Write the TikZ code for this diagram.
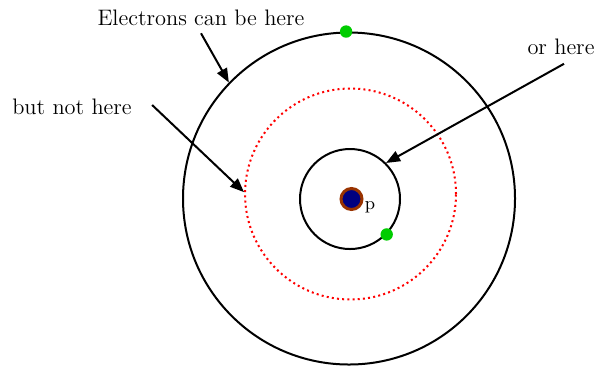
\documentclass[tikz,border=0pt]{standalone}
\usetikzlibrary{arrows.meta, positioning}
\definecolor{nuc-navy}{RGB}{0,0,128}
\definecolor{nuc-brown}{RGB}{153,51,0}
\definecolor{elec-green}{RGB}{0,204,0}
\definecolor{gap-red}{RGB}{255,0,0}

\begin{document}
\begin{tikzpicture}[
  x=0.5pt, y=-0.5pt,
  >={Triangle[length=7pt, width=5.5pt]},
  % Orbit styles
  orbit/.style    = {circle, draw=black, line width=1pt, inner sep=0pt},
  gaporbit/.style = {circle, draw=gap-red, line width=1pt, inner sep=0pt,
                     dash pattern=on 1pt off 1.6pt},
  nucleus/.style  = {circle, draw=nuc-brown, fill=nuc-navy, line width=1.5pt,
                     inner sep=0pt, minimum size=10.5pt},
  electron/.style = {circle, fill=elec-green, inner sep=0pt, minimum size=6.2pt},
  % Text and arrow styles
  lbl/.style      = {font=\fontsize{11.2}{13}\selectfont, inner sep=2pt},
  pointer/.style  = {->, line width=1pt, black},
]
\useasboundingbox (0,0) rectangle (597,366);

% ── Orbits ─────────────────────────────────────────────────────────────────────
\node[orbit, minimum size=166pt] (outer) at (349,198.5) {};
\node[gaporbit, minimum size=105.5pt] (dotted) at (350.5,194) {};
\node[orbit, minimum size=50pt] (inner) at (350,199) {};

% ── Nucleus and electrons ──────────────────────────────────────────────────────
\node[nucleus] (nuc) at (351.5,199) {};
\node[font=\fontsize{9}{10}\selectfont, inner sep=0pt] (plbl) at (370,207) {p};
\node[electron] (e-outer) at (outer.91) {};
\node[electron] (e-inner) at (inner.-44) {};

% ── Labels ─────────────────────────────────────────────────────────────────────
\node[lbl] (can) at (201,18) {Electrons can be here};
\node[lbl] (cannot) at (72,107) {but not here};
\node[lbl] (orhere) at (561,46.5) {or here};

% ── Arrows ─────────────────────────────────────────────────────────────────────
\draw[pointer] ([yshift=-1.5pt]can.south) -- (outer.136);
\draw[pointer] ([xshift=8pt, yshift=1pt]cannot.east) -- (dotted.179);
\draw[pointer] ([xshift=1.5pt, yshift=-2.5pt]orhere.south) -- (inner.45);

\end{tikzpicture}
\end{document}
